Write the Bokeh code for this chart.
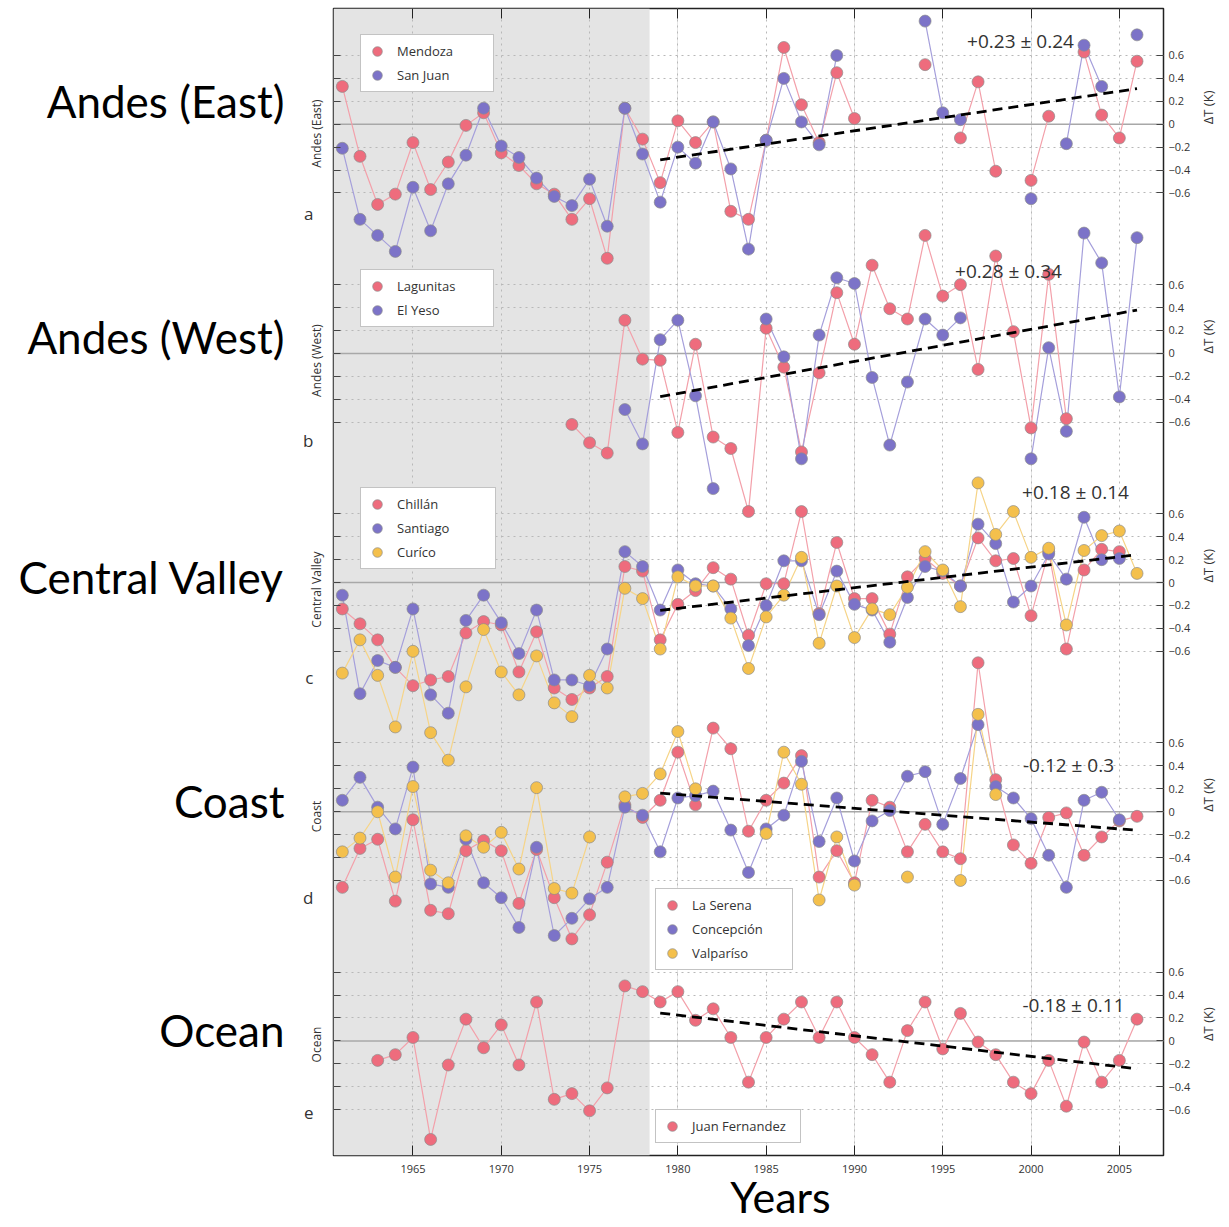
import math
from bokeh.plotting import figure
from bokeh.models import (Range1d, LinearAxis, FixedTicker, Label, Legend, LegendItem,
                          BoxAnnotation, Span, Grid)
from bokeh.embed import file_html
from bokeh.resources import INLINE

nan = float("nan")
years = list(range(1961, 2007))

# ---- Panel a: Andes (East) ----
mendoza = [0.33, -0.28, -0.70, -0.61, -0.16, -0.57, -0.33, -0.01, 0.10, -0.25,
           -0.36, -0.52, -0.61, -0.83, -0.65, -1.17, 0.14, -0.13, -0.51, 0.03,
           -0.16, 0.02, -0.76, -0.83, -0.14, 0.67, 0.17, -0.16, 0.45, 0.05,
           nan, nan, nan, 0.52, nan, -0.12, 0.37, -0.41, nan, -0.49,
           0.07, nan, 0.63, 0.08, -0.12, 0.55]
san_juan = [-0.21, -0.83, -0.97, -1.11, -0.55, -0.93, -0.52, -0.27, 0.14, -0.19,
            -0.29, -0.47, -0.63, -0.71, -0.48, -0.89, 0.14, -0.26, -0.68, -0.20,
            -0.34, 0.02, -0.39, -1.09, -0.14, 0.40, 0.02, -0.18, 0.60, nan,
            nan, nan, nan, 0.90, 0.10, 0.04, nan, nan, nan, -0.65,
            nan, -0.17, 0.69, 0.33, nan, 0.78]

# ---- Panel b: Andes (West) ----
lagunitas = [nan, nan, nan, nan, nan, nan, nan, nan, nan, nan,
             nan, nan, nan, -0.62, -0.78, -0.87, 0.29, -0.05, -0.06, -0.69,
             0.08, -0.73, -0.83, -1.38, 0.22, -0.12, -0.86, -0.17, 0.53, 0.08,
             0.77, 0.39, 0.30, 1.03, 0.50, 0.60, -0.14, 0.85, 0.19, -0.65,
             0.69, -0.57, nan, nan, nan, nan]
el_yeso = [nan, nan, nan, nan, nan, nan, nan, nan, nan, nan,
           nan, nan, nan, nan, nan, nan, -0.49, -0.79, 0.12, 0.29,
           -0.37, -1.18, nan, nan, 0.30, -0.03, -0.92, 0.16, 0.66, 0.61,
           -0.21, -0.80, -0.25, 0.30, 0.16, 0.31, nan, nan, nan, -0.92,
           0.05, -0.68, 1.05, 0.79, -0.38, 1.01]

# ---- Panel c: Central Valley ----
chillan = [-0.23, -0.36, -0.50, -0.74, -0.90, -0.85, -0.82, -0.44, -0.34, -0.37,
           -0.78, -0.43, -0.92, -1.02, -0.92, -0.82, 0.14, 0.10, -0.50, -0.19,
           -0.07, 0.13, 0.03, -0.46, -0.01, -0.01, 0.62, -0.27, 0.35, -0.14,
           -0.14, -0.45, 0.05, 0.21, 0.08, -0.03, 0.39, 0.19, 0.21, -0.29,
           0.27, -0.58, 0.11, 0.29, 0.27, nan]
santiago = [-0.11, -0.97, -0.68, -0.74, -0.23, -0.98, -1.14, -0.33, -0.11, -0.35,
            -0.62, -0.24, -0.85, -0.85, -0.90, -0.58, 0.27, 0.14, -0.24, 0.11,
            -0.01, -0.03, -0.23, -0.55, -0.20, 0.19, 0.19, -0.28, 0.10, -0.19,
            -0.24, -0.52, -0.13, 0.14, 0.10, -0.03, 0.51, 0.34, -0.17, -0.03,
            0.25, 0.03, 0.57, 0.20, 0.21, nan]
curico = [-0.79, -0.50, -0.81, -1.26, -0.60, -1.31, -1.55, -0.91, -0.41, -0.78,
          -0.98, -0.64, -1.05, -1.17, -0.81, -0.92, -0.05, -0.14, -0.58, 0.05,
          -0.03, -0.03, -0.31, -0.75, -0.30, -0.11, 0.22, -0.53, -0.03, -0.48,
          -0.23, -0.28, -0.04, 0.27, 0.11, -0.21, 0.87, 0.42, 0.62, 0.22,
          0.30, -0.37, 0.28, 0.41, 0.45, 0.08]

# ---- Panel d: Coast ----
la_serena = [-0.66, -0.32, -0.24, -0.78, -0.07, -0.86, -0.89, -0.34, -0.25, -0.34,
             -0.80, -0.33, -0.75, -1.11, -0.90, -0.44, 0.06, -0.05, 0.10, 0.52,
             0.06, 0.73, 0.55, -0.17, 0.10, 0.25, 0.49, -0.57, -0.34, -0.62,
             0.10, 0.04, -0.35, -0.11, -0.35, -0.41, 1.30, 0.28, -0.29, -0.45,
             -0.05, -0.01, -0.38, -0.22, -0.08, -0.04]
concepcion = [0.10, 0.30, 0.04, -0.15, 0.39, -0.63, -0.66, -0.24, -0.62, -0.75,
              -1.01, -0.31, -1.08, -0.93, -0.76, -0.66, 0.04, -0.03, -0.35, 0.12,
              0.14, 0.18, -0.16, -0.53, -0.15, -0.03, 0.44, -0.26, 0.12, -0.43,
              -0.08, 0.01, 0.31, 0.35, -0.11, 0.29, 0.76, 0.22, 0.12, -0.06,
              -0.38, -0.66, 0.10, 0.17, -0.07, nan]
valparaiso = [-0.35, -0.23, 0.00, -0.57, 0.22, -0.51, -0.62, -0.21, -0.31, -0.18,
              -0.50, 0.21, -0.67, -0.71, -0.22, nan, 0.13, 0.16, 0.33, 0.70,
              0.20, nan, nan, nan, -0.19, 0.52, 0.24, -0.77, -0.22, -0.64,
              nan, nan, -0.57, nan, nan, -0.60, 0.85, 0.15, nan, nan,
              nan, nan, nan, nan, nan, nan]

# ---- Panel e: Ocean ----
juan_fernandez = [nan, nan, -0.17, -0.12, 0.03, -0.86, -0.21, 0.19, -0.06, 0.14,
                  -0.21, 0.34, -0.51, -0.46, -0.61, -0.41, 0.48, 0.43, 0.34, 0.43,
                  0.18, 0.28, 0.03, -0.36, 0.03, 0.19, 0.34, 0.03, 0.34, 0.03,
                  -0.12, -0.36, 0.09, 0.34, -0.07, 0.24, -0.01, -0.12, -0.36, -0.46,
                  -0.17, -0.57, -0.01, -0.36, -0.17, 0.19]

panel_names = ["Andes (East)", "Andes (West)", "Central Valley", "Coast", "Ocean"]
panel_letters = ["a", "b", "c", "d", "e"]
trend_per_decade = [0.23, 0.28, 0.18, -0.12, -0.18]
trend_texts = ["+0.23 \u00b1 0.24", "+0.28 \u00b1 0.34", "+0.18 \u00b1 0.14",
               "-0.12 \u00b1 0.3", "-0.18 \u00b1 0.11"]
trend_years = [1979, 2006]
panel_ticks = [-0.6, -0.4, -0.2, 0.0, 0.2, 0.4, 0.6]
panel_tick_labels = ["\u22120.6", "\u22120.4", "\u22120.2", "0", "0.2", "0.4", "0.6"]
x_ticks = [1965, 1970, 1975, 1980, 1985, 1990, 1995, 2000, 2005]
x_title = "Years"
y_title = "\u0394T (K)"

PINK, PINK_L = "#ee6c7d", "#f3a0aa"
BLUE, BLUE_L = "#7c73c8", "#a59fdb"
YELL, YELL_L = "#f4c04c", "#f6d487"

series = [
    [("Mendoza", mendoza, PINK, PINK_L), ("San Juan", san_juan, BLUE, BLUE_L)],
    [("Lagunitas", lagunitas, PINK, PINK_L), ("El Yeso", el_yeso, BLUE, BLUE_L)],
    [("Chill\u00e1n", chillan, PINK, PINK_L), ("Santiago", santiago, BLUE, BLUE_L),
     ("Cur\u00edco", curico, YELL, YELL_L)],
    [("La Serena", la_serena, PINK, PINK_L), ("Concepci\u00f3n", concepcion, BLUE, BLUE_L),
     ("Valpar\u00edso", valparaiso, YELL, YELL_L)],
    [("Juan Fernandez", juan_fernandez, PINK, PINK_L)],
]
offsets = [-2.0 * k for k in range(5)]

# ---------- figure ----------
W, H = 1229, 1227
FL, FR, FT, FB = 333, 1163, 8, 1155
X0, X1 = 1960.5, 2007.5
Y0, Y1 = -9.0, 1.01


def X(px):
    return round(X0 + (px - FL) * (X1 - X0) / (FR - FL), 4)


def Y(py):
    return round(Y1 - (py - FT) * (Y1 - Y0) / (FB - FT), 4)


p = figure(width=W, height=H, x_range=Range1d(X0, X1), y_range=Range1d(Y0, Y1),
           x_axis_location=None, y_axis_location=None, toolbar_location=None,
           output_backend="svg", min_border_left=FL, min_border_right=W - FR,
           min_border_top=FT, min_border_bottom=H - FB)
p.outline_line_color = "#222222"
p.outline_line_width = 1.5
p.background_fill_color = "white"
p.border_fill_color = "white"

# shaded early period
p.add_layout(BoxAnnotation(right=1978.4, fill_color="#e4e4e4", fill_alpha=1.0,
                           line_color=None, level="image"))

all_ticks = []
all_labels = {}
grid_ticks = []
for off in offsets:
    for t, lab in zip(panel_ticks, panel_tick_labels):
        v = round(off + t, 2)
        all_ticks.append(v)
        all_labels[v] = lab
        if t != 0.0:
            grid_ticks.append(v)

p.add_layout(Grid(dimension=0, ticker=FixedTicker(ticks=x_ticks), grid_line_color="#b8b8b8",
                  grid_line_dash="2 4", grid_line_width=1))
p.add_layout(Grid(dimension=1, ticker=FixedTicker(ticks=grid_ticks), grid_line_color="#b8b8b8",
                  grid_line_dash="2 4", grid_line_width=1))
for off in offsets:
    p.add_layout(Span(location=off, dimension="width", line_color="#a8a8a8",
                      line_width=1.5, level="underlay"))


def text_axis(ticks, labels, side, font, size, standoff, orientation="horizontal",
              color="#333333"):
    ax = LinearAxis(ticker=FixedTicker(ticks=ticks),
                    major_label_overrides=dict(zip(ticks, labels)),
                    axis_line_color=None, major_tick_line_color=None,
                    minor_tick_line_color=None, major_tick_in=0, major_tick_out=0,
                    major_label_standoff=standoff, major_label_text_font=font,
                    major_label_text_font_size=size, major_label_orientation=orientation,
                    major_label_text_color=color)
    p.add_layout(ax, side)
    return ax


# bottom: tick labels, then the title
xb = LinearAxis(ticker=FixedTicker(ticks=x_ticks), axis_line_color=None,
                major_tick_in=10, major_tick_out=0, minor_tick_line_color=None,
                major_tick_line_color="#222222", major_label_standoff=9,
                major_label_text_font="Open Sans", major_label_text_font_size="11px",
                major_label_text_color="#333333")
p.add_layout(xb, "below")
text_axis([X(780)], [x_title], "below", "Lato", "43px", -5, color="black")

# top ticks
xt = LinearAxis(ticker=FixedTicker(ticks=x_ticks), axis_line_color=None,
                major_tick_in=10, major_tick_out=0, minor_tick_line_color=None,
                major_tick_line_color="#222222", major_label_standoff=0,
                major_label_text_font_size="0px")
p.add_layout(xt, "above")

# right: numbers, then ΔT (K)
yr = LinearAxis(ticker=FixedTicker(ticks=all_ticks), axis_line_color=None,
                major_tick_in=7, major_tick_out=0, minor_tick_line_color=None,
                major_tick_line_color="#444444", major_label_standoff=5,
                major_label_overrides=all_labels, major_label_text_font="Open Sans",
                major_label_text_font_size="11px", major_label_text_color="#333333")
p.add_layout(yr, "right")
text_axis([round(o, 2) for o in offsets], [y_title] * 5, "right", "Open Sans", "13px", 15,
          orientation=math.pi / 2)

# left: inner ticks, rotated small names, letters, big names
yl = LinearAxis(ticker=FixedTicker(ticks=all_ticks), axis_line_color=None,
                major_tick_in=7, major_tick_out=0, minor_tick_line_color=None,
                major_tick_line_color="#444444", major_label_standoff=0,
                major_label_text_font_size="0px")
p.add_layout(yl, "left")
small_pos = [133, 360, 589, 816, 1044]
letter_pos = [213, 440, 677, 897, 1112]
big_pos = [100, 337, 577, 801, 1030]
text_axis([Y(v) for v in small_pos], panel_names, "left", "Open Sans", "12px", 8,
          orientation="vertical")
text_axis([Y(v) for v in letter_pos], panel_letters, "left", "Open Sans", "17px", -8)
text_axis([Y(v) for v in big_pos], panel_names, "left", "Lato", "44px", 16, color="black")

# data
legend_locs = [(27, 1063), (27, 828), (27, 586), (322, 185), (322, 12)]
label_widths = [92, 92, 94, 96, 104]
text_pos = [(1020, 40), (1008, 271), (1075, 492), (1068, 764), (1073, 1005)]
for k, (off, sers) in enumerate(zip(offsets, series)):
    items = []
    for name, vals, col, lcol in sers:
        ys = [v + off for v in vals]
        p.line(years, ys, line_color=lcol, line_width=1.2)
    for name, vals, col, lcol in sers:
        ys = [v + off for v in vals]
        r = p.scatter(years, ys, size=12, fill_color=col, line_color="#8c8c8c",
                      line_width=0.7)
        items.append(LegendItem(label=name, renderers=[r]))
    mid = 0.5 * (trend_years[0] + trend_years[1])
    ty = [off + trend_per_decade[k] * (yy - mid) / 10.0 for yy in trend_years]
    p.line(trend_years, ty, line_color="black", line_width=2.8, line_dash="10 6")
    leg = Legend(items=items, location=legend_locs[k], orientation="vertical",
                 background_fill_color="white", background_fill_alpha=1.0,
                 border_line_color="#888888", border_line_width=1,
                 label_text_font="Open Sans", label_text_font_size="13px",
                 label_text_color="#333333", glyph_width=24, glyph_height=24,
                 label_height=24, label_width=label_widths[k], spacing=0, padding=4,
                 label_standoff=8, margin=0)
    p.add_layout(leg)
    tx, tyy = text_pos[k]
    p.add_layout(Label(x=X(tx), y=Y(tyy), text=trend_texts[k], text_align="center",
                       text_baseline="middle", text_font="Open Sans",
                       text_font_size="19px", text_color="#333333"))

open("out.html", "w").write(file_html(p, INLINE))
